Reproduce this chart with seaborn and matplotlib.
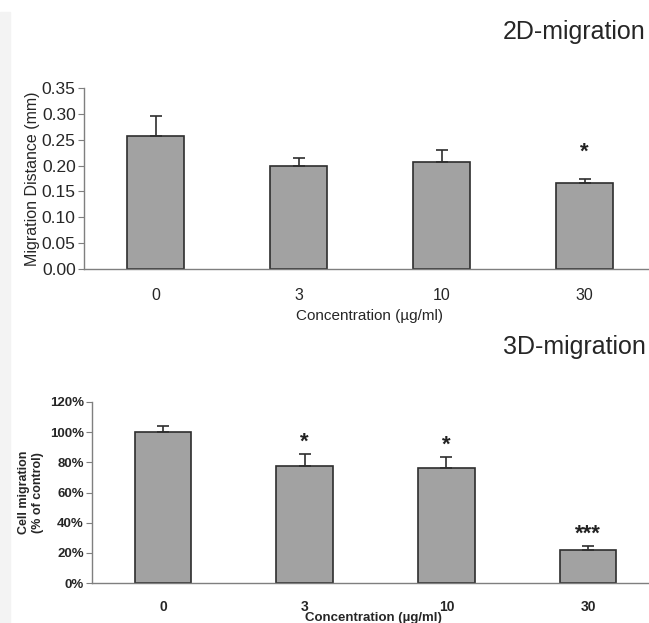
import numpy as np
import pandas as pd
import seaborn as sns
import matplotlib.pyplot as plt
from matplotlib.patches import Rectangle

# data
concentrations = ["0", "3", "10", "30"]
dist_2d = [0.258, 0.199, 0.207, 0.166]
dist_2d_err = [0.037, 0.016, 0.024, 0.009]
stars_2d = ["", "", "", "*"]

migration_3d = [100, 77.5, 76.5, 22.2]
migration_3d_err = [4, 8, 7, 2]
stars_3d = ["", "*", "*", "***"]

bar_color = "#a2a2a2"
spine_color = "#7f7f7f"

sns.set_style("white")
plt.rcParams["font.family"] = ["Liberation Sans", "DejaVu Sans"]

fig = plt.figure(figsize=(6.49, 6.23), dpi=100)
W, H = 649, 623
# faint scan border on the left
fig.patches.append(Rectangle((0, 0), 10 / W, 1 - 12 / H, transform=fig.transFigure,
                             color="#f3f3f3", zorder=0))


def px_axes(left, top, right, bottom):
    return fig.add_axes([left / W, 1 - bottom / H, (right - left) / W, (bottom - top) / H])


def draw_panel(ax, values, errs, stars, star_offset, star_size):
    df = pd.DataFrame({"conc": concentrations, "val": values})
    sns.barplot(data=df, x="conc", y="val", color=bar_color, width=0.4,
                edgecolor="#2e2e2e", linewidth=1.2, saturation=1, ax=ax, zorder=2)
    x = np.arange(len(values))
    ax.errorbar(x, values, yerr=[np.zeros(len(errs)), errs], fmt="none",
                ecolor="#2e2e2e", elinewidth=1.2, capsize=4, capthick=1.2, zorder=3)
    for xi, v, e, s in zip(x, values, errs, stars):
        if s:
            ax.text(xi, v + e + star_offset, s, ha="center", va="center",
                    fontsize=star_size, fontweight="bold", color="#222222")
    ax.set_xlim(-0.5, 3.5)
    for side in ["top", "right"]:
        ax.spines[side].set_visible(False)
    for side in ["left", "bottom"]:
        ax.spines[side].set_color(spine_color)
        ax.spines[side].set_linewidth(1.0)
    ax.set_xticks(x, minor=False)
    ax.set_xticks([0.5, 1.5, 2.5], minor=True)
    ax.tick_params(axis="x", which="major", length=0)
    ax.tick_params(axis="x", which="minor", length=3, color=spine_color, direction="out")
    ax.tick_params(axis="y", length=4, color=spine_color, direction="out", left=True)
    ax.set_facecolor("white")


# 2D migration panel
ax1 = px_axes(84, 88, 656, 269)
draw_panel(ax1, dist_2d, dist_2d_err, stars_2d, 0.05, 16)
ax1.set_ylim(0, 0.35)
ax1.set_yticks(np.arange(0, 0.351, 0.05))
ax1.set_yticklabels([f"{t:.2f}" for t in np.arange(0, 0.351, 0.05)], fontsize=12.5)
ax1.set_xticklabels(concentrations, fontsize=11.5)
ax1.tick_params(axis="x", pad=14)
ax1.tick_params(axis="y", pad=2)
ax1.set_ylabel("Migration Distance (mm)", fontsize=11.5, labelpad=1)
ax1.set_xlabel("Concentration (µg/ml)", fontsize=11, labelpad=4)
fig.text(646 / W, 1 - 32 / H, "2D-migration", ha="right", va="center", fontsize=18)

# 3D migration panel
ax2 = px_axes(92, 402, 659, 583)
draw_panel(ax2, migration_3d, migration_3d_err, stars_3d, 8, 16)
ax2.set_ylim(0, 120)
ax2.set_yticks(np.arange(0, 121, 20))
ax2.set_yticklabels([f"{t}%" for t in range(0, 121, 20)], fontsize=9.5, fontweight="bold")
ax2.set_xticklabels(concentrations, fontsize=10, fontweight="bold")
ax2.tick_params(axis="x", pad=12)
ax2.tick_params(axis="y", pad=2)
ax2.set_ylabel("Cell migration\n(% of control)", fontsize=9, fontweight="bold", labelpad=4)
ax2.set_xlabel("Concentration (µg/ml)", fontsize=9.5, fontweight="bold")
ax2.xaxis.set_label_coords((373 - 92) / (659 - 92), -29 / 181)
fig.text(646 / W, 1 - 347 / H, "3D-migration", ha="right", va="center", fontsize=18)

fig.savefig("out.png", dpi=100)
